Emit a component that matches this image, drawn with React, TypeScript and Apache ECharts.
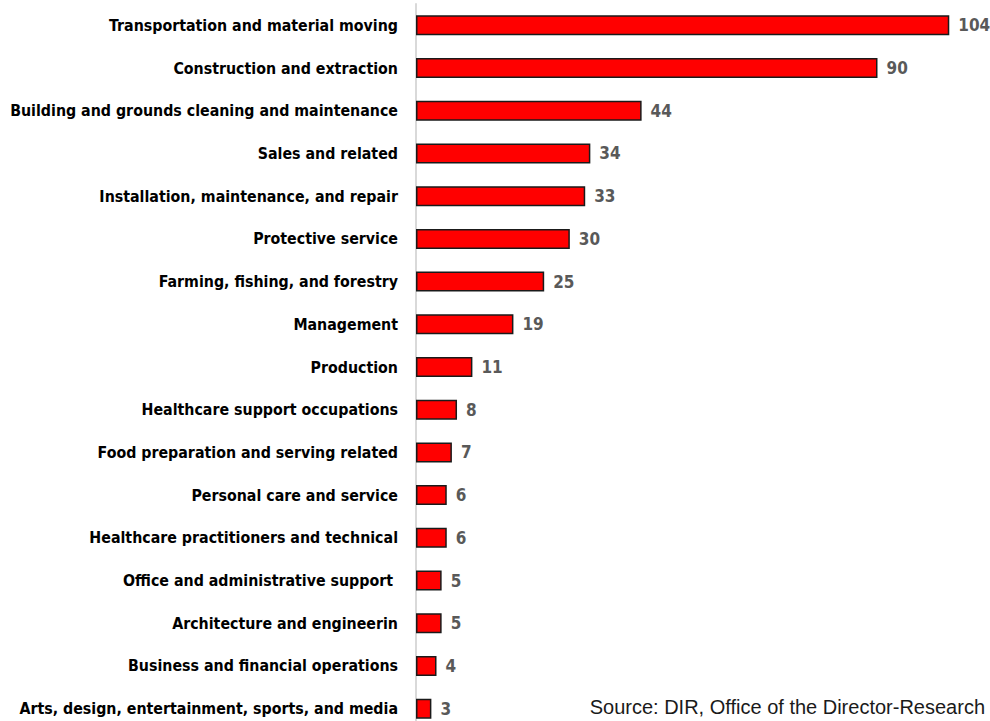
import React, { useEffect, useRef } from "react";
import * as echarts from "echarts";

const categories = [
  "Transportation and material moving",
  "Construction and extraction",
  "Building and grounds cleaning and maintenance",
  "Sales and related",
  "Installation, maintenance, and repair",
  "Protective service",
  "Farming, fishing, and forestry",
  "Management",
  "Production",
  "Healthcare support occupations",
  "Food preparation and serving related",
  "Personal care and service",
  "Healthcare practitioners and technical",
  "Office and administrative support ",
  "Architecture and engineerin",
  "Business and financial operations",
  "Arts, design, entertainment, sports, and media",
];
const values = [104, 90, 44, 34, 33, 30, 25, 19, 11, 8, 7, 6, 6, 5, 5, 4, 3];
const sourceText = "Source: DIR, Office of the Director-Research";

const NARROW = '"Liberation Sans Narrow", "Arial Narrow", "DejaVu Sans Condensed", sans-serif';

export default function App() {
  const ref = useRef<HTMLDivElement>(null);
  useEffect(() => {
    if (!ref.current) return;
    const chart = echarts.init(ref.current, undefined, { renderer: "svg" });
    chart.setOption({
      animation: false,
      backgroundColor: "#ffffff",
      grid: { left: 416, right: 12, top: 4, bottom: 0, containLabel: false },
      xAxis: {
        type: "value",
        min: 0,
        max: 109.6,
        show: false,
      },
      yAxis: {
        type: "category",
        inverse: true,
        data: categories,
        axisLine: { show: true, lineStyle: { color: "#d9d9d9", width: 2 } },
        axisTick: { show: false },
        axisLabel: {
          margin: 18,
          fontFamily: NARROW,
          fontWeight: "bold",
          fontSize: 15.8,
          color: "#000000",
        },
      },
      series: [
        {
          type: "bar",
          data: values,
          barWidth: 20,
          itemStyle: { color: "#ff0000", borderColor: "#1a1a1a", borderWidth: 1.5 },
          label: {
            show: true,
            position: "right",
            distance: 9,
            fontFamily: NARROW,
            fontWeight: "bold",
            fontSize: 17,
            color: "#595959",
          },
        },
      ],
      graphic: [
        {
          type: "text",
          right: 5,
          top: 697,
          style: {
            text: sourceText,
            font: '20px "Liberation Sans", Arial, sans-serif',
            fill: "#1a1a1a",
          },
        },
      ],
    });
    return () => chart.dispose();
  }, []);
  return (
    <div style={{ position: "absolute", left: 0, top: 0, width: 990, height: 721, overflow: "hidden", background: "#fff" }}>
      <div ref={ref} style={{ width: 990, height: 730 }} />
    </div>
  );
}
